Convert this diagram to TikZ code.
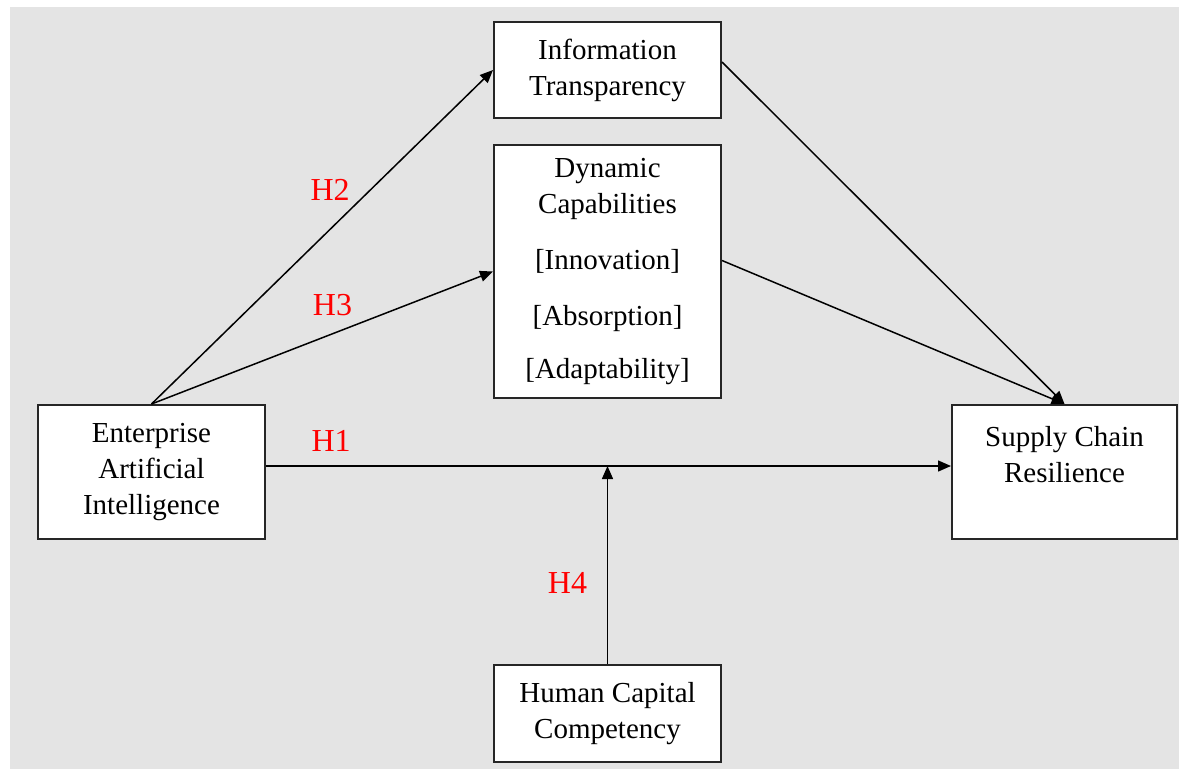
\documentclass[tikz,border=0pt]{standalone}
\usepackage{fontspec}
\setmainfont{Liberation Serif}
\usetikzlibrary{calc,positioning,arrows.meta}
\definecolor{fondo}{RGB}{228,228,228}

\begin{document}
\begin{tikzpicture}[x=1pt,y=-1pt,
  caja/.style={draw=black!85,line width=2pt,fill=white,minimum width=227pt,inner sep=0pt,align=center,font=\fontsize{29}{36}\selectfont},
  flecha/.style={-{Triangle[length=13pt,width=11pt]},line width=1.5pt},
  hip/.style={text=red,inner sep=0pt,font=\fontsize{32}{36}\selectfont}
  ]

  \useasboundingbox (0,0) rectangle (1179,769);
  \fill[fondo] (10,7) rectangle (1179,769);

  \node[caja,minimum height=96pt] (it) at (607.5,70) {Information\\Transparency};
  \node[caja,minimum height=253pt,below=25pt of it] (dc) {Dynamic\\Capabilities\\[20pt][Innovation]\\[20pt][Absorption]\\[17pt][Adaptability]};
  \node[caja,minimum height=97pt,below=265pt of dc] (hcc) {Human Capital\\Competency};
  \node[caja,minimum height=134pt] (eai) at (151.5,472) {Enterprise\\Artificial\\Intelligence};
  \node[caja,minimum height=134pt,minimum width=225pt] (scr) at (1064.5,472) {Supply Chain\\Resilience\\\mbox{}};

  \coordinate (ini) at ($(eai.east)+(0,-6)$);
  \coordinate (fin) at ($(scr.west)+(0,-6)$);
  \coordinate (mod) at (hcc.north |- ini);

  \draw[flecha] (ini) -- node[hip,pos=.095,yshift=25pt] (h1) {H1} (fin);
  \draw[flecha] (eai.north) -- node[hip,pos=.64,xshift=-40pt] (h2) {H2} (it.west);
  \draw[flecha] (eai.north) -- node[hip,pos=.53,yshift=29pt] (h3) {H3} (dc.west);
  \draw[flecha] (hcc.north) -- node[hip,pos=.41,xshift=-40pt] (h4) {H4} (mod);
  \draw[flecha] ($(it.east)+(0,-8)$) -- (scr.north);
  \draw[flecha] ($(dc.east)+(0,-11)$) -- (scr.north);

\end{tikzpicture}
\end{document}
